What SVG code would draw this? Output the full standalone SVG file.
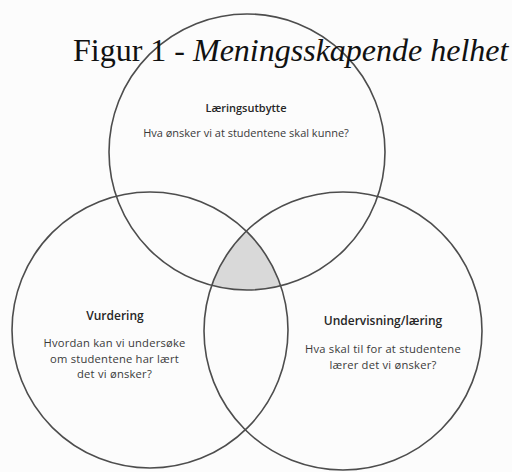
<svg xmlns="http://www.w3.org/2000/svg" width="512" height="472" viewBox="0 0 512 472">
  <style>
    .ring { fill: none; stroke: #4d4d4d; stroke-width: 1.6; }
    .head { font-family: "Open Sans", "Liberation Sans", sans-serif; font-weight: 600; fill: #262626; text-anchor: middle; }
    .body { font-family: "Open Sans", "Liberation Sans", sans-serif; fill: #3a3a3a; text-anchor: middle; }
    .sm { font-size: 11px; }
    .lg { font-size: 12px; }
    .lb { font-size: 11.2px; letter-spacing: 0.22px; }
    .title { font-family: "Liberation Serif", "Times New Roman", serif; font-size: 32px; fill: #111; }
  </style>
  <defs>
    <clipPath id="clipLeft"><circle cx="150" cy="330" r="138"/></clipPath>
    <clipPath id="clipRight"><circle cx="343" cy="331" r="139"/></clipPath>
  </defs>
  <rect width="512" height="472" fill="#fcfcfc"/>

  <g id="center-overlap" clip-path="url(#clipLeft)">
    <g clip-path="url(#clipRight)">
      <circle cx="247" cy="152" r="138" fill="#d9d9d9"/>
    </g>
  </g>

  <g id="laeringsutbytte">
    <circle class="ring" cx="247" cy="152" r="138"/>
    <text class="head sm" x="246" y="112">Læringsutbytte</text>
    <text class="body sm" x="246" y="137">Hva ønsker vi at studentene skal kunne?</text>
  </g>

  <g id="vurdering">
    <circle class="ring" cx="150" cy="330" r="138"/>
    <text class="head lg" x="115" y="320">Vurdering</text>
    <text class="body lb" x="114.5" y="347">Hvordan kan vi undersøke</text>
    <text class="body lb" x="114.5" y="362.5">om studentene har lært</text>
    <text class="body lb" x="114.5" y="378">det vi ønsker?</text>
  </g>

  <g id="undervisning">
    <circle class="ring" cx="343" cy="331" r="139"/>
    <text class="head lg" x="383" y="325">Undervisning/læring</text>
    <text class="body lb" x="383" y="353">Hva skal til for at studentene</text>
    <text class="body lb" x="383" y="368.5">lærer det vi ønsker?</text>
  </g>

  <g id="title">
    <text class="title" x="73" y="61">Figur 1 - <tspan font-style="italic">Meningsskapende helhet</tspan></text>
  </g>
</svg>
